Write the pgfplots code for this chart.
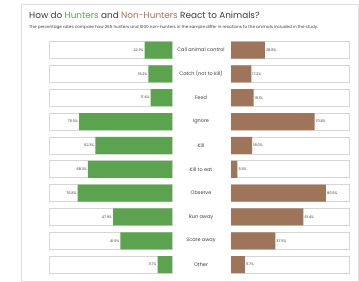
\documentclass[border=0pt]{standalone}
\usepackage{fontspec}
\setmainfont{Poppins}
\usepackage{pgfplots}
\pgfplotsset{compat=1.18}
\usepackage{pgfplotstable}
\definecolor{hunt}{RGB}{91,163,79}
\definecolor{non}{RGB}{158,116,91}
\definecolor{txt}{RGB}{60,60,60}
\definecolor{boxgray}{RGB}{214,214,214}
\pgfplotstableread{
idx h n
0 22.3 28.8
1 19.2 17.2
2 17.4 19.1
3 75.5 70.8
4 62.3 18.0
5 68.3 5.5
6 76.8 80.5
7 47.9 61.4
8 41.9 37.5
9 11.7 11.7
}\data
\pgfplotsset{mybars/.style={scale only axis, height=238.5bp, ymin=-0.5, ymax=9.5,
  y dir=reverse, xmin=0, xmax=100, axis line style={draw=none}, tick style={draw=none},
  major tick length=0pt, xtick=\empty, clip=false, anchor=south west,
  /pgf/number format/assume math mode=true}}
\begin{document}
\begin{tikzpicture}
\path[use as bounding box] (0,0) rectangle (359bp,282bp);
\draw[boxgray!80, line width=0.6bp] (21bp,1bp) rectangle (358bp,278bp);
\node[anchor=base west, inner sep=0, text=txt] at (29bp,263bp)
  {\fontsize{8.9}{10}\selectfont How do \textcolor{hunt}{Hunters} and \textcolor{non}{Non-Hunters} React to Animals?};
\node[anchor=base west, inner sep=0, text=txt] at (29bp,253.6bp)
  {\fontsize{4.15}{5}\selectfont The percentage rates compare how 265 hunters and 1000 non-hunters in the sample differ in reactions to the animals included in the study.};
\begin{axis}[mybars, at={(49bp,5.4bp)}, width=123bp, x dir=reverse, ytick=\empty]
\addplot[xbar, bar shift=0pt, bar width=17bp, fill=white, draw=boxgray, line width=0.6bp] table[x expr=100, y=idx]{\data};
\addplot[xbar, bar shift=0pt, bar width=17bp, fill=hunt, draw=none,
  nodes near coords={\pgfmathprintnumber[fixed,fixed zerofill,precision=1]{\pgfplotspointmeta}\%},
  every node near coord/.append style={anchor=east, text=txt, inner sep=1bp, font=\fontsize{3.6}{4}\selectfont}]
  table[x=h, y=idx]{\data};
\end{axis}
\begin{axis}[mybars, at={(231bp,5.4bp)}, width=118bp, ytick={0,...,9},
  yticklabels={Call animal control, Catch (not to kill), Feed, Ignore, Kill, Kill to eat, Observe, Run away, Scare away, Other},
  yticklabel style={anchor=center, xshift=-30bp, text=txt, font=\fontsize{5}{6}\selectfont}]
\addplot[xbar, bar shift=0pt, bar width=17bp, fill=white, draw=boxgray, line width=0.6bp] table[x expr=100, y=idx]{\data};
\addplot[xbar, bar shift=0pt, bar width=17bp, fill=non, draw=none,
  nodes near coords={\pgfmathprintnumber[fixed,fixed zerofill,precision=1]{\pgfplotspointmeta}\%},
  every node near coord/.append style={anchor=west, text=txt, inner sep=1bp, font=\fontsize{3.6}{4}\selectfont}]
  table[x=n, y=idx]{\data};
\end{axis}
\end{tikzpicture}
\end{document}
